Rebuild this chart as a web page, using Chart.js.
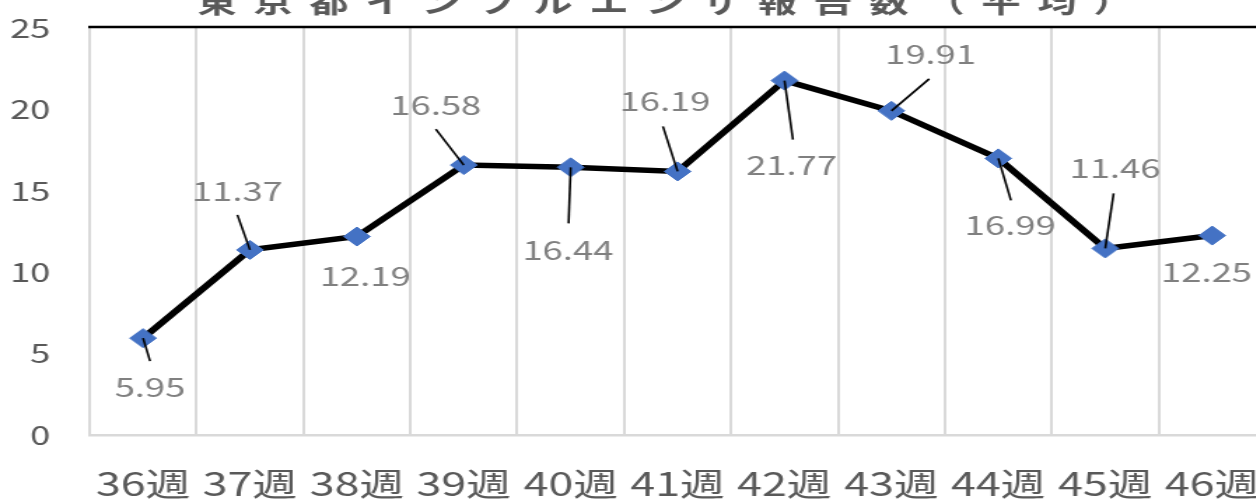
<!DOCTYPE html>
<html>
<head>
<meta charset="utf-8">
<script src="https://cdn.jsdelivr.net/npm/chart.js@4.4.1/dist/chart.umd.min.js"></script>
<style>
  html, body { margin: 0; padding: 0; background: #fff; width: 1256px; height: 500px; overflow: hidden; }
  #wrap { width: 920px; height: 500px; transform: scaleX(1.4); transform-origin: 0 0; }
  canvas { display: block; }
</style>
</head>
<body>
<div id="wrap"><canvas id="c" width="920" height="500" style="width:920px;height:500px"></canvas></div>
<script>
// ---- data ----
const categories = ['36週', '37週', '38週', '39週', '40週', '41週', '42週', '43週', '44週', '45週', '46週'];
const reports = [5.95, 11.37, 12.19, 16.58, 16.44, 16.19, 21.77, 19.91, 16.99, 11.46, 12.25];
const yTicks = [0, 5, 10, 15, 20, 25];
const titleText = '東京都インフルエンザ報告数（平均）';

// label placement relative to each point (px): [labelDx, labelDy, leaderDx, leaderDy] (leader null = none)
const labelPlacement = [
  [5, 49, 5, 23],
  [-9, -59, -9, -35],
  [6, 40, null, null],
  [-20, -60, -20, -36],
  [-2, 83, -1.5, 56],
  [-9, -70, -10.5, -45],
  [5, 85, 6, 59],
  [28, -57, 27, -32],
  [8.5, 67, 9, 42],
  [7, -80, 6, -55],
  [-4, 37, null, null]
];

const FONT = '"Noto Sans CJK JP", "Noto Sans", sans-serif';

const decor = {
  id: 'decor',
  beforeDatasetsDraw(chart) {
    const {ctx, chartArea} = chart;
    ctx.save();
    // top border line
    ctx.strokeStyle = '#000';
    ctx.lineWidth = 2.5;
    ctx.beginPath();
    ctx.moveTo(chartArea.left - 1, chartArea.top - 1);
    ctx.lineTo(chart.width, chartArea.top - 1);
    ctx.stroke();
    // title (clipped at top like the reference)
    ctx.fillStyle = '#595959';
    ctx.font = 'bold 28px ' + FONT;
    ctx.textAlign = 'center';
    ctx.textBaseline = 'alphabetic';
    try { ctx.letterSpacing = '12px'; } catch (e) {}
    ctx.fillText(titleText, 481, 13);
    ctx.restore();
  },
  afterDatasetsDraw(chart) {
    const {ctx} = chart;
    const meta = chart.getDatasetMeta(0);
    const values = chart.data.datasets[0].data;
    ctx.save();
    ctx.font = '26px ' + FONT;
    ctx.fillStyle = '#808080';
    ctx.textAlign = 'center';
    ctx.textBaseline = 'middle';
    meta.data.forEach((pt, i) => {
      const p = labelPlacement[i];
      if (p[2] !== null) {
        ctx.strokeStyle = '#000';
        ctx.lineWidth = 1.6;
        ctx.beginPath();
        ctx.moveTo(pt.x, pt.y);
        ctx.lineTo(pt.x + p[2], pt.y + p[3]);
        ctx.stroke();
      }
      ctx.fillText(values[i].toFixed(2), pt.x + p[0], pt.y + p[1]);
    });
    ctx.restore();
  }
};

new Chart(document.getElementById('c'), {
  type: 'line',
  data: {
    labels: categories,
    datasets: [{
      label: '報告数',
      data: reports,
      borderColor: '#000000',
      borderWidth: 5.5,
      tension: 0,
      pointStyle: 'rectRot',
      pointRadius: 9.5,
      pointBackgroundColor: '#4472C4',
      pointBorderColor: '#4472C4',
      pointBorderWidth: 1
    }]
  },
  options: {
    responsive: false,
    animation: false,
    events: [],
    layout: { autoPadding: false, padding: { top: 28, right: 16, left: 0, bottom: 0 } },
    plugins: { legend: { display: false }, tooltip: { enabled: false }, title: { display: false } },
    scales: {
      x: {
        type: 'category',
        offset: true,
        grid: { display: true, color: '#d9d9d9', lineWidth: 2, offset: true, drawTicks: false },
        border: { display: true, color: '#d9d9d9', width: 2.5 },
        ticks: { color: '#595959', font: { family: FONT, size: 32 }, padding: 30, maxRotation: 0, autoSkip: false },
        afterFit(s) { s.height = 65; s.paddingLeft = 0; s.paddingRight = 0; }
      },
      y: {
        min: yTicks[0],
        max: yTicks[yTicks.length - 1],
        afterBuildTicks(s) { s.ticks = yTicks.map(v => ({ value: v })); },
        grid: { display: false },
        border: { display: false },
        ticks: { color: '#595959', font: { family: FONT, size: 26 }, padding: 20 },
        afterFit(s) { s.width = 64; s.paddingTop = 0; s.paddingBottom = 0; }
      }
    }
  },
  plugins: [decor]
});
</script>
</body>
</html>
